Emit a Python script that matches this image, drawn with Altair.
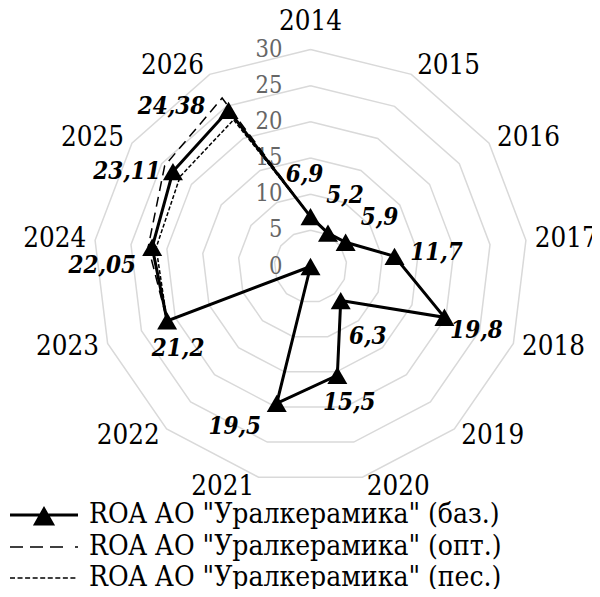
import math
import altair as alt
import pandas as pd

# ---------------- data ----------------
years = ["2014", "2015", "2016", "2017", "2018", "2019", "2020",
         "2021", "2022", "2023", "2024", "2025", "2026"]
roa_base = [6.9, 5.2, 5.9, 11.7, 19.8, 6.3, 15.5, 19.5, 0.0, 21.2, 22.05, 23.11, 24.38]
roa_opt = [6.9, 5.2, 5.9, 11.7, 19.8, 6.3, 15.5, 19.5, 0.0, 21.2, 22.6, 24.5, 26.3]
roa_pes = [6.9, 5.2, 5.9, 11.7, 19.8, 6.3, 15.5, 19.5, 0.0, 21.2, 21.5, 21.9, 22.9]
base_labels = ["6,9", "5,2", "5,9", "11,7", "19,8", "6,3", "15,5", "19,5", "",
               "21,2", "22,05", "23,11", "24,38"]
radial_ticks = [0, 5, 10, 15, 20, 25, 30]
series_names = ['ROA АО "Уралкерамика" (баз.)',
                'ROA АО "Уралкерамика" (опт.)',
                'ROA АО "Уралкерамика" (пес.)']

# ---------------- layout / style ----------------
W, H = 584, 581
CX, CY = 302.5, 258.5          # centre of the radar, px inside the chart
PPU = 7.233                    # px per data unit
R_MAX = 30
N = len(years)
FONT = "DejaVu Serif Condensed"

# label offsets (px, right / down) relative to each baseline point
label_dx = [-6, 17, 34, 42, 32, 27, 12, -42, 0, 11, -50, -46, -57]
label_dy = [-42, -37, -24, -3, 14, 36, 28, 24, 0, 28, 19, 0, -3]


def polar(v, i):
    a = 2 * math.pi * i / N
    return v * math.sin(a), v * math.cos(a)


xs = alt.Scale(domain=[-CX / PPU, (W - CX) / PPU], nice=False, zero=False)
ys = alt.Scale(domain=[-(H - CY) / PPU, CY / PPU], nice=False, zero=False)
X = alt.X("x:Q", scale=xs, axis=None)
Y = alt.Y("y:Q", scale=ys, axis=None)

grid_rows = []
for lvl in radial_ticks[1:]:
    for k in range(N + 1):
        x, y = polar(lvl, k % N)
        grid_rows.append({"level": lvl, "idx": k, "x": x, "y": y})
grid_df = pd.DataFrame(grid_rows)

tick_df = pd.DataFrame({"x": [0.0] * len(radial_ticks),
                        "y": radial_ticks,
                        "label": [str(t) for t in radial_ticks]})

cat_rows = []
for i, yr in enumerate(years):
    s, c = math.sin(2 * math.pi * i / N), math.cos(2 * math.pi * i / N)
    vx, vy = R_MAX * s, R_MAX * c
    if abs(s) < 0.1:
        side, dxp, dyp = "center", 0.0, -27.5
    else:
        side = "left" if s > 0 else "right"
        dxp = (1 if s > 0 else -1) * (3 + 6 * abs(s))
        dyp = -c * 10
    cat_rows.append({"x": vx + dxp / PPU, "y": vy - dyp / PPU, "label": yr, "side": side})
cat_df = pd.DataFrame(cat_rows)

line_rows = []
for name, vals in zip(series_names, [roa_base, roa_opt, roa_pes]):
    for k in range(N + 1):
        i = k % N
        x, y = polar(vals[i], i)
        line_rows.append({"series": name, "idx": k, "x": x, "y": y})
line_df = pd.DataFrame(line_rows)

pt_rows = []
for i, v in enumerate(roa_base):
    x, y = polar(v, i)
    pt_rows.append({"x": x, "y": y})
pt_df = pd.DataFrame(pt_rows)

lab_rows = []
for i, (v, t) in enumerate(zip(roa_base, base_labels)):
    if not t:
        continue
    x, y = polar(v, i)
    lab_rows.append({"x": x + label_dx[i] / PPU, "y": y - label_dy[i] / PPU, "label": t})
lab_df = pd.DataFrame(lab_rows)

legend_df = pd.DataFrame({"series": series_names, "x": [0.0] * 3, "y": [0.0] * 3})

p_base = ("M-3.4,0H3.4"
          "M0,-0.6L0.85,0.9H-0.85Z"
          "M0,-0.3L0.55,0.7H-0.55Z"
          "M0,0L0.28,0.5H-0.28Z")
p_opt = "M-3.4,0H-2.1M-1.4,0H-0.1M0.6,0H1.9M3.1,0H3.4"
dots = []
start = -3.4
for k in range(9):
    a = start + k * 0.755
    dots.append(f"M{a:.3f},0H{a + 0.5:.3f}")
p_pes = "".join(dots)

grid = alt.Chart(grid_df).mark_line(color="#d9d9d9", strokeWidth=1.5).encode(
    x=X, y=Y, detail="level:N", order="idx:Q")

ticks = alt.Chart(tick_df).mark_text(
    align="right", baseline="middle", dx=-28, font=FONT, fontSize=23.5, color="#666666"
).encode(x=X, y=Y, text="label:N")

cat_layers = []
for side in ["left", "right", "center"]:
    cat_layers.append(
        alt.Chart(cat_df).transform_filter(alt.datum.side == side).mark_text(
            align=side, baseline="middle", font=FONT, fontSize=27.5, color="black"
        ).encode(x=X, y=Y, text="label:N"))

line_opt = alt.Chart(line_df).transform_filter(alt.datum.series == series_names[1]).mark_line(
    color="black", strokeWidth=1.5, strokeDash=[10, 6]).encode(x=X, y=Y, order="idx:Q")
line_pes = alt.Chart(line_df).transform_filter(alt.datum.series == series_names[2]).mark_line(
    color="black", strokeWidth=1.5, strokeDash=[4, 2]).encode(x=X, y=Y, order="idx:Q")
line_base = alt.Chart(line_df).transform_filter(alt.datum.series == series_names[0]).mark_line(
    color="black", strokeWidth=3).encode(x=X, y=Y, order="idx:Q")

points = alt.Chart(pt_df).mark_point(
    shape="triangle-up", size=400, filled=True, color="black", opacity=1
).encode(x=X, y=Y)

labels = alt.Chart(lab_df).mark_text(
    align="center", baseline="middle", font=FONT, fontSize=24,
    fontStyle="italic", fontWeight="bold", color="black"
).encode(x=X, y=Y, text="label:N")

leg = alt.Legend(orient="none", legendX=22, legendY=493, padding=0,
                 labelFont=FONT, labelFontSize=28, labelColor="black",
                 labelOffset=31, labelLimit=0, rowPadding=3, symbolSize=400,
                 symbolStrokeColor="black")

legend_layer = alt.Chart(legend_df).transform_filter("false").mark_point(
    filled=False, color="black", opacity=1, size=400
).encode(
    x=X, y=Y,
    shape=alt.Shape("series:N", title=None,
                    scale=alt.Scale(domain=series_names, range=[p_base, p_opt, p_pes]),
                    legend=leg),
    strokeWidth=alt.StrokeWidth("series:N", title=None,
                                scale=alt.Scale(type="ordinal", domain=series_names,
                                                range=[3, 1.5, 1.5]),
                                legend=leg),
)

chart = alt.layer(
    grid, ticks, *cat_layers, line_opt, line_pes, line_base, points, labels, legend_layer
).properties(
    width=W, height=H, autosize=alt.AutoSizeParams(type="none"), padding=0
).configure_view(stroke=None)

chart.save("out.html", embed_options={"renderer": "svg", "actions": False})
